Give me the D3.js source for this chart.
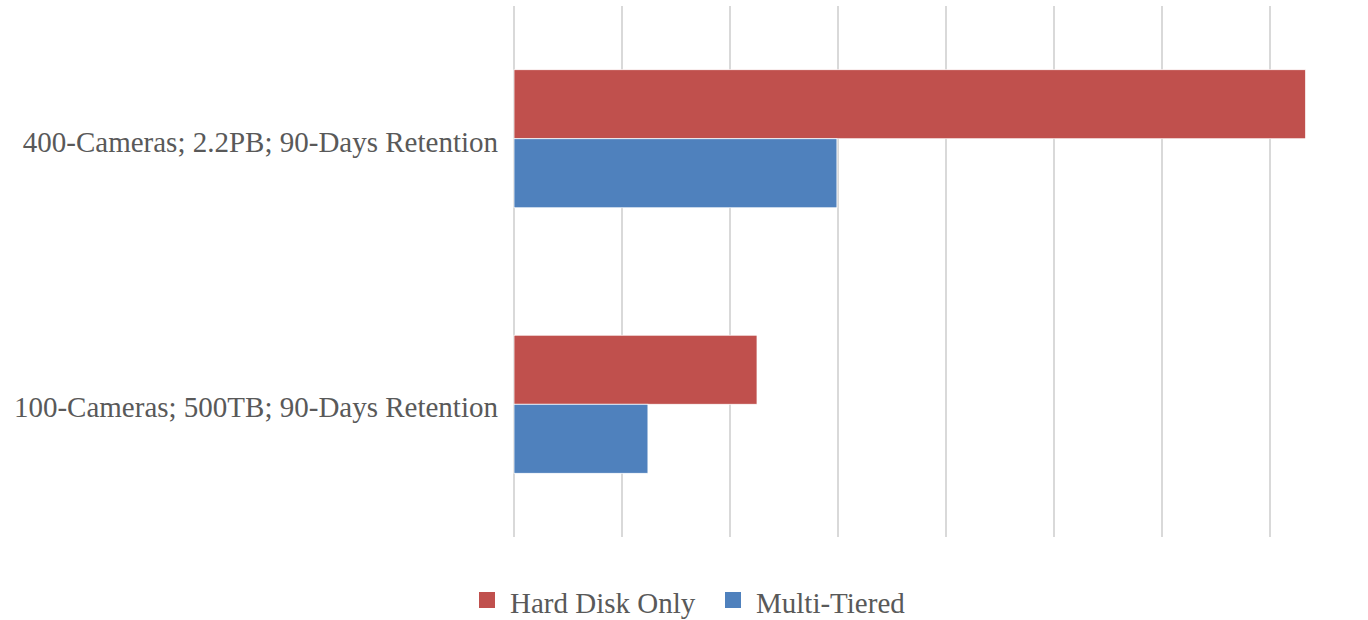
<!DOCTYPE html>
<html>
<head>
<meta charset="utf-8">
<script src="https://cdn.jsdelivr.net/npm/d3@7"></script>
<style>
  body { margin: 0; background: #fff; }
  text { font-family: "Liberation Serif", "DejaVu Serif", serif; fill: #595959; }
</style>
</head>
<body>
<svg></svg>
<script>
// categories, top to bottom
let categories = ["400-Cameras; 2.2PB; 90-Days Retention", "100-Cameras; 500TB; 90-Days Retention"]
let series = ["Hard Disk Only", "Multi-Tiered"]
let hardDisk = [7.33, 2.25]
let multiTiered = [2.99, 1.24]
let gridTicks = [0, 1, 2, 3, 4, 5, 6, 7]

let colors = ["#C0504D", "#4F81BD"]

let width = 1368, height = 620
let svg = d3.select('svg')
    .attr('width', width)
    .attr('height', height)

let plot = {left: 514, right: 1324, top: 6, bottom: 537}

// x scale -- one gridline every unit
let x = d3.scaleLinear()
    .domain([0, 7.5])
    .range([plot.left, plot.right])

let y = d3.scaleBand()
    .domain(categories)
    .range([plot.top, plot.bottom])
    .paddingInner(0.48)
    .paddingOuter(0.24)

let ySub = d3.scaleBand()
    .domain(series)
    .range([0, y.bandwidth()])

// gridlines
svg.append('g')
    .selectAll('line')
    .data(gridTicks)
    .enter()
    .append('line')
    .attr('x1', d => x(d))
    .attr('x2', d => x(d))
    .attr('y1', plot.top)
    .attr('y2', plot.bottom)
    .attr('stroke', '#D9D9D9')
    .attr('stroke-width', 2)

// bars
let rows = categories.map((c, i) => ({cat: c, vals: [hardDisk[i], multiTiered[i]]}))

let groups = svg.append('g')
    .selectAll('g')
    .data(rows)
    .enter()
    .append('g')
    .attr('transform', d => `translate(0, ${y(d.cat)})`)

groups.selectAll('rect')
    .data(d => d.vals.map((v, j) => ({s: series[j], v: v, j: j})))
    .enter()
    .append('rect')
    .attr('x', x(0))
    .attr('y', d => ySub(d.s))
    .attr('width', d => x(d.v) - x(0))
    .attr('height', ySub.bandwidth())
    .attr('fill', d => colors[d.j])
    .attr('stroke', '#fff')
    .attr('stroke-width', 0.75)

// category labels
svg.append('g')
    .selectAll('text')
    .data(categories)
    .enter()
    .append('text')
    .attr('x', plot.left - 16)
    .attr('y', d => y(d) + y.bandwidth() / 2 + 3)
    .attr('dy', '0.35em')
    .attr('text-anchor', 'end')
    .style('font-size', '29px')
    .text(d => d)

// legend
let legendX = [479, 725]
let legend = svg.append('g')
    .selectAll('g')
    .data(series)
    .enter()
    .append('g')
    .attr('transform', (d, i) => `translate(${legendX[i]}, 592)`)

legend.append('rect')
    .attr('width', 16)
    .attr('height', 16)
    .attr('fill', (d, i) => colors[i])

legend.append('text')
    .attr('x', 31)
    .attr('y', 11)
    .attr('dy', '0.35em')
    .style('font-size', '29px')
    .text(d => d)
</script>
</body>
</html>
